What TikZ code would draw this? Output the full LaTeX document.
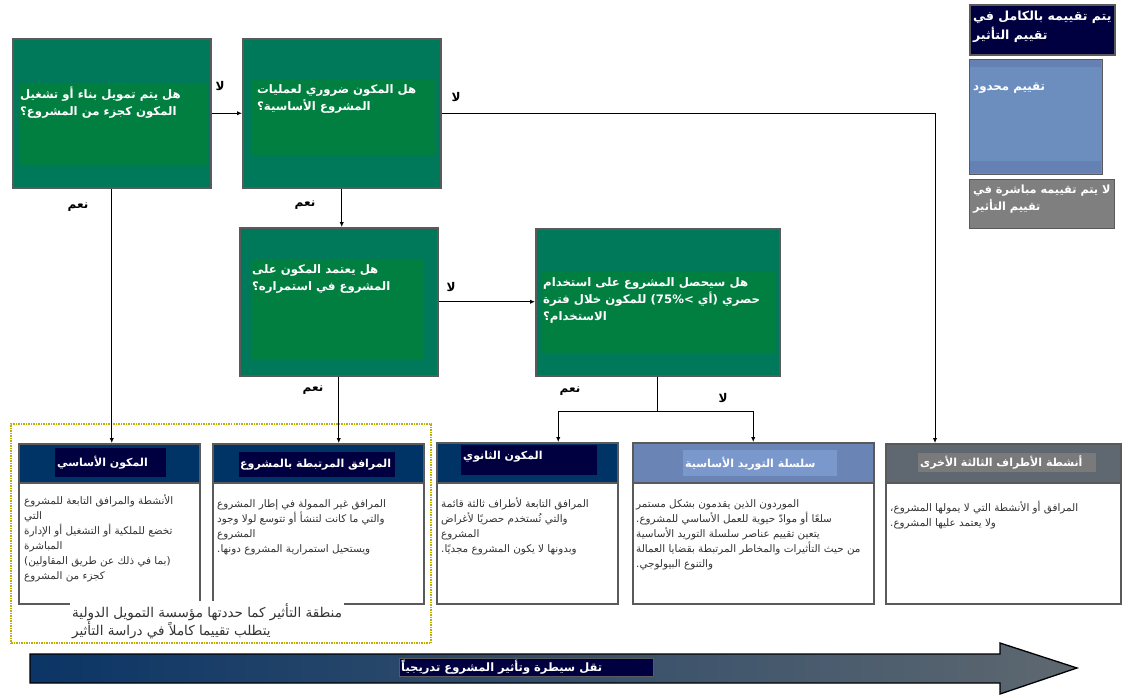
\documentclass[tikz,border=0pt]{standalone}
\usepackage{fontspec}
\usetikzlibrary{arrows.meta}
\TeXXeTstate=1
\newfontfamily\arabicfont[Script=Arabic]{DejaVu Sans}
\newcommand\artxt[1]{{\arabicfont\beginR #1\endR}}
\definecolor{qteal}{HTML}{00785A}
\definecolor{qgreen}{HTML}{007F40}
\definecolor{qborder}{HTML}{5A5A5A}
\definecolor{navyh}{HTML}{003366}
\definecolor{navyi}{HTML}{000040}
\definecolor{suph}{HTML}{6A84B5}
\definecolor{supi}{HTML}{7A98CC}
\definecolor{othh}{HTML}{5F6870}
\definecolor{othi}{HTML}{7A7A7A}
\definecolor{lgblue}{HTML}{6C8EBF}
\definecolor{lgband}{HTML}{6580B2}
\definecolor{lggray}{HTML}{7F7F7F}
\definecolor{zoney}{HTML}{BFB000}
\definecolor{bodytxt}{HTML}{333333}
\definecolor{arrl}{HTML}{0B3566}
\definecolor{arrr}{HTML}{5E6870}
\tikzset{
  qouter/.style={draw=qborder, line width=1.5pt, fill=qteal, inner sep=0pt, anchor=north west},
  qinner/.style={fill=qgreen, inner sep=0pt, anchor=north west},
  qtext/.style={text=white, font=\arabicfont\bfseries\fontsize{11.7}{17}\selectfont, align=left, anchor=north west, inner sep=0pt},
  lbl/.style={font=\arabicfont\bfseries\fontsize{12}{14}\selectfont, inner sep=0pt},
  arr/.style={-{Latex[length=5pt,width=4.5pt]}, line width=1pt},
  conn/.style={line width=1pt},
  bbox/.style={draw=qborder, line width=1.5pt, fill=white, inner sep=0pt, anchor=north west},
  hbox/.style={draw=qborder, line width=1.5pt, inner sep=0pt, anchor=north west},
  hin/.style={inner sep=0pt, anchor=north west},
  htext/.style={text=white, font=\arabicfont\bfseries\fontsize{11}{13}\selectfont, inner sep=0pt, anchor=west},
  btext/.style={text=bodytxt, font=\arabicfont\fontsize{10.4}{15}\selectfont, align=left, anchor=north west, inner sep=0pt},
  lgtext/.style={text=white, align=left, anchor=north west, inner sep=0pt}
}
\begin{document}
\begin{tikzpicture}[x=1pt,y=-1pt]
\useasboundingbox (0,0) rectangle (1122,696);

% impact zone
\node[draw=zoney, line width=2pt, dash pattern=on 1.5pt off 1pt, inner sep=0pt, anchor=north west,
      minimum width=420pt, minimum height=219pt] (zone) at (10,423) {};

% question boxes
\node[qouter, minimum width=198pt, minimum height=149pt] (q1) at (12,38) {};
\node[qinner, minimum width=188pt, minimum height=82pt] (q1b) at (19,83) {};
\node[qtext] (q1t) at (20,87) {\artxt{هل يتم تمويل بناء أو تشغيل}\\\artxt{المكون كجزء من المشروع؟}};

\node[qouter, minimum width=198pt, minimum height=149pt] (q2) at (242,38) {};
\node[qinner, minimum width=184pt, minimum height=75pt] (q2b) at (252,80) {};
\node[qtext] (q2t) at (257,84) {\artxt{هل المكون ضروري لعمليات}\\\artxt{المشروع الأساسية؟}};

\node[qouter, minimum width=198pt, minimum height=148pt] (q3) at (239,227) {};
\node[qinner, minimum width=172pt, minimum height=100pt] (q3b) at (251,259) {};
\node[qtext] (q3t) at (252,264) {\artxt{هل يعتمد المكون على}\\\artxt{المشروع في استمراره؟}};

\node[qouter, minimum width=244pt, minimum height=147pt] (q4) at (535,228) {};
\node[qinner, minimum width=233pt, minimum height=82pt] (q4b) at (542,272) {};
\node[qtext] (q4t) at (543,277) {\artxt{هل سيحصل المشروع على استخدام}\\\artxt{حصري (أي >\beginL75\%\endL) للمكون خلال فترة}\\\artxt{الاستخدام؟}};

% bottom boxes
\node[bbox, minimum width=181pt, minimum height=160pt] (core) at (18,443) {};
\node[hbox, fill=navyh, minimum width=181pt, minimum height=39pt] (coreh) at (18,443) {};
\node[hin, fill=navyi, minimum width=111pt, minimum height=29pt] (corehi) at (55,448) {};
\node[htext] (coreht) at ([xshift=2pt]corehi.west) {\artxt{المكون الأساسي}};
\node[btext] (corebt) at (24,494) {\artxt{الأنشطة والمرافق التابعة للمشروع}\\\artxt{التي}\\\artxt{تخضع للملكية أو التشغيل أو الإدارة}\\\artxt{المباشرة}\\\artxt{(بما في ذلك عن طريق المقاولين)}\\\artxt{كجزء من المشروع}};

\node[bbox, minimum width=211pt, minimum height=160pt] (assoc) at (212,443) {};
\node[hbox, fill=navyh, minimum width=211pt, minimum height=39pt] (assoch) at (212,443) {};
\node[hin, fill=navyi, minimum width=156pt, minimum height=25pt] (assochi) at (239,452) {};
\node[htext] (assocht) at ([xshift=1pt]assochi.west) {\artxt{المرافق المرتبطة بالمشروع}};
\node[btext] (assocbt) at (217,499) {\artxt{المرافق غير الممولة في إطار المشروع}\\\artxt{والتي ما كانت لتنشأ أو تتوسع لولا وجود}\\\artxt{المشروع}\\\artxt{ويستحيل استمرارية المشروع دونها.}};

\node[bbox, minimum width=181pt, minimum height=161pt] (sec) at (436,442) {};
\node[hbox, fill=navyh, minimum width=181pt, minimum height=40pt] (sech) at (436,442) {};
\node[hin, fill=navyi, minimum width=136pt, minimum height=30pt] (sechi) at (461,445) {};
\node[htext] (secht) at ([xshift=2pt,yshift=4pt]sechi.west) {\artxt{المكون الثانوي}};
\node[btext] (secbt) at (441,497) {\artxt{المرافق التابعة لأطراف ثالثة قائمة}\\\artxt{والتي تُستخدم حصريًا لأغراض}\\\artxt{المشروع}\\\artxt{وبدونها لا يكون المشروع مجديًا.}};

\node[bbox, minimum width=241pt, minimum height=161pt] (sup) at (632,442) {};
\node[hbox, fill=suph, minimum width=241pt, minimum height=40pt] (suph) at (632,442) {};
\node[hin, fill=supi, minimum width=154pt, minimum height=26pt] (suphi) at (683,450) {};
\node[htext] (supht) at ([xshift=2pt]suphi.west) {\artxt{سلسلة التوريد الأساسية}};
\node[btext] (supbt) at (636,499) {\artxt{الموردون الذين يقدمون بشكل مستمر}\\\artxt{سلعًا أو موادّ حيوية للعمل الأساسي للمشروع.}\\\artxt{يتعين تقييم عناصر سلسلة التوريد الأساسية}\\\artxt{من حيث التأثيرات والمخاطر المرتبطة بقضايا العمالة}\\\artxt{والتنوع البيولوجي.}};

\node[bbox, minimum width=235pt, minimum height=160pt] (oth) at (885,443) {};
\node[hbox, fill=othh, minimum width=235pt, minimum height=39pt] (othh) at (885,443) {};
\node[hin, fill=othi, minimum width=178pt, minimum height=19pt] (othhi) at (918,453) {};
\node[htext] (othht) at ([xshift=2pt]othhi.west) {\artxt{أنشطة الأطراف الثالثة الأخرى}};
\node[btext] (othbt) at (890,501) {\artxt{المرافق أو الأنشطة التي لا يمولها المشروع،}\\\artxt{ولا يعتمد عليها المشروع.}};

% zone caption
\node[fill=white, inner sep=2pt, anchor=north west, align=left, text=bodytxt,
      font=\arabicfont\fontsize{13.5}{18}\selectfont] (zonet) at (70,601)
      {\artxt{منطقة التأثير كما حددتها مؤسسة التمويل الدولية}\\\artxt{يتطلب تقييما كاملاً في دراسة التأثير}};

% connectors
\draw[arr] (q1.east) -- (q2.west);
\draw[arr] (q2.east) -| ([xshift=50pt]oth.north west);
\draw[arr] (q1.south) -- (q1.south |- core.north);
\draw[arr] (q2.south) -- (q2.south |- q3.north);
\draw[arr] (q3.east) -- (q3.east -| q4.west);
\draw[arr] (q3.south) -- (q3.south |- assoc.north);
\coordinate (sp) at (657,411);
\draw[conn] (q4.south) -- (q4.south |- sp);
\draw[arr] (sp) -| ([xshift=31pt]sec.north);
\draw[arr] (sp) -| (sup.north);

% connector labels
\node[lbl] (l12) at (220,86) {\artxt{لا}};
\node[lbl] (l2o) at (456,97) {\artxt{لا}};
\node[lbl] (y1) at (78,207) {\artxt{نعم}};
\node[lbl] (y2) at (305,205) {\artxt{نعم}};
\node[lbl] (l34) at (451,287) {\artxt{لا}};
\node[lbl] (y3) at (313,390) {\artxt{نعم}};
\node[lbl] (y4) at (570,391) {\artxt{نعم}};
\node[lbl] (l4) at (723,398) {\artxt{لا}};

% legend
\node[draw=qborder, line width=1.5pt, fill=navyi, inner sep=0pt, anchor=north west,
      minimum width=145pt, minimum height=50pt] (lg1) at (969,4) {};
\node[lgtext, font=\arabicfont\bfseries\fontsize{12.5}{19}\selectfont] (lg1t) at (973,11)
      {\artxt{يتم تقييمه بالكامل في}\\\artxt{تقييم التأثير}};
\node[draw=qborder, line width=1.2pt, fill=lgblue, inner sep=0pt, anchor=north west,
      minimum width=133pt, minimum height=115pt] (lg2) at (969,59) {};
\node[fill=lgband, inner sep=0pt, anchor=north west, minimum width=131pt, minimum height=7pt] (lg2top) at (970,60) {};
\node[fill=lgband, inner sep=0pt, anchor=south west, minimum width=131pt, minimum height=12pt] (lg2bot) at (970,173) {};
\node[lgtext, font=\arabicfont\bfseries\fontsize{11.8}{17}\selectfont] (lg2t) at (973,83) {\artxt{تقييم محدود}};
\node[draw=qborder, line width=1.2pt, fill=lggray, inner sep=0pt, anchor=north west,
      minimum width=145pt, minimum height=49pt] (lg3) at (969,179) {};
\node[lgtext, font=\arabicfont\bfseries\fontsize{11.3}{17}\selectfont] (lg3t) at (973,185)
      {\artxt{لا يتم تقييمه مباشرة في}\\\artxt{تقييم التأثير}};

% bottom arrow
\path[draw=black, line width=1.3pt, left color=arrl, right color=arrr]
  (30,654) -- (1000,654) -- (1000,643) -- (1077,668) -- (1000,694) -- (1000,683) -- (30,683) -- cycle;
\node[fill=navyi, draw=qborder, line width=0.5pt, minimum width=254pt, minimum height=18pt, inner sep=0pt,
      anchor=north west] (arrbg) at (399,658) {};
\node[text=white, inner sep=0pt, anchor=west, font=\arabicfont\bfseries\fontsize{11.5}{13}\selectfont]
      (arrt) at ([xshift=2pt]arrbg.west) {\artxt{تقل سيطرة وتأثير المشروع تدريجياً}};
\end{tikzpicture}
\end{document}
